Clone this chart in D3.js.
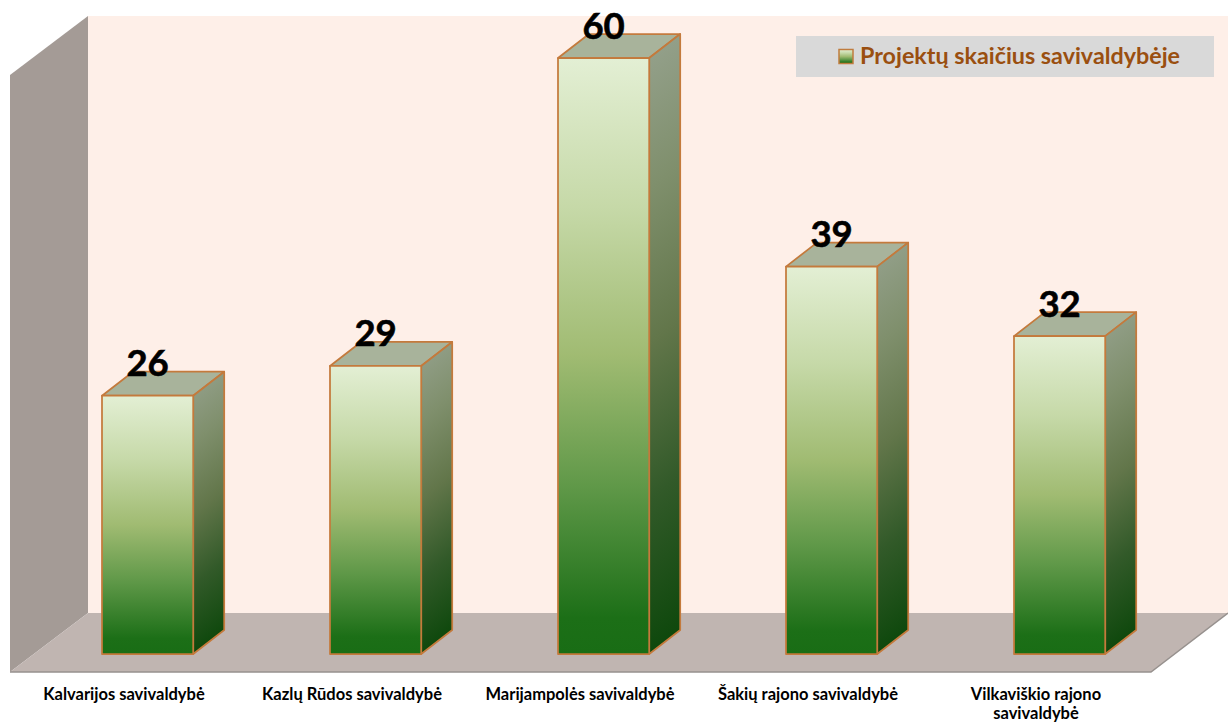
<!DOCTYPE html>
<html>
<head>
<meta charset="utf-8">
<script src="https://cdn.jsdelivr.net/npm/d3@7"></script>
<style>
    html, body { margin: 0; padding: 0; background: #fff; }
    svg { display: block; }
    text { font-family: Lato, "Open Sans", sans-serif; font-weight: 700; }
</style>
</head>
<body>
<div class="chart"></div>
<script>
const width = 1228, height = 724

const categories = ['Kalvarijos savivaldybė', 'Kazlų Rūdos savivaldybė', 'Marijampolės savivaldybė', 'Šakių rajono savivaldybė', 'Vilkaviškio rajono savivaldybė']
const projects = [26, 29, 60, 39, 32]
const seriesName = 'Projektų skaičius savivaldybėje'

// front edge of the floor, the chart depth comes on top of it
const floorY = 672, wallDx = 78, wallDy = 59, wallTop = 16
// bars stand a bit inside the floor and have their own depth
const insetDx = 23.6, insetDy = 18, barDx = 31, barDy = 24

const svg = d3.select('.chart').append('svg')
    .attr('width', width)
    .attr('height', height)

const x = d3.scaleBand()
    .domain(categories)
    .range([10, 1150])
    .paddingInner(0.6)
    .paddingOuter(0.3)

const y = d3.scaleLinear()
    .domain([0, 60])
    .range([floorY - insetDy, 58])

const defs = svg.append('defs')

function gradient(id, stops, x2, y2) {
    const g = defs.append('linearGradient').attr('id', id)
        .attr('x1', 0).attr('y1', 0).attr('x2', x2).attr('y2', y2)
    stops.forEach(s => {
        g.append('stop').attr('offset', s[0]).attr('stop-color', s[1])
    })
}
gradient('front', [[0, '#e3efd4'], [0.25, '#c6d9a8'], [0.5, '#a0bb72'], [0.72, '#5f9848'], [0.94, '#1c6f17'], [1, '#196d15']], 0, 1)

// side face shading runs along the depth slope, so every bar gets its own vector
const sideStops = [[0, '#96a28e'], [0.25, '#7f8f6c'], [0.5, '#62764a'], [0.75, '#325a29'], [1, '#0e480c']]
categories.forEach((d, i) => {
    gradient('side' + i, sideStops, barDy / (y(0) - y(projects[i]) + barDy), 1)
})

// walls and floor
const poly = pts => pts.map(p => p.join(',')).join(' ')

svg.append('polygon').attr('class', 'back-wall')
    .attr('points', poly([[10 + wallDx, wallTop], [width, wallTop], [width, floorY - wallDy], [10 + wallDx, floorY - wallDy]]))
    .style('fill', '#feefe8')
svg.append('polygon').attr('class', 'left-wall')
    .attr('points', poly([[10, wallTop + wallDy], [10 + wallDx, wallTop], [10 + wallDx, floorY - wallDy], [10, floorY]]))
    .style('fill', '#a49b96')
svg.append('polygon').attr('class', 'floor')
    .attr('points', poly([[10, floorY], [10 + wallDx, floorY - wallDy], [width, floorY - wallDy], [1151, floorY]]))
    .style('fill', '#c0b5b1')
svg.append('polyline').attr('class', 'floor-edge')
    .attr('points', poly([[10, floorY], [1151, floorY], [width, floorY - wallDy]]))
    .style('fill', 'none')
    .style('stroke', '#97918e')
    .style('stroke-width', 1.5)

// bars
const bars = svg.append('g').attr('class', 'bars')
    .selectAll('g')
    .data(categories)
    .enter().append('g')
    .attr('transform', d => 'translate(' + (x(d) + insetDx) + ',0)')

const w = x.bandwidth()
const value = (d, i) => projects[i]
const edge = { stroke: '#c47a3c', 'stroke-width': 1.75, 'stroke-linejoin': 'round' }

function addFace(cls, fill, points) {
    const face = bars.append('polygon').attr('class', cls)
        .attr('points', points)
        .style('fill', fill)
    Object.keys(edge).forEach(k => face.style(k, edge[k]))
}

addFace('top', '#a8b39b', (d, i) => {
    const t = y(value(d, i))
    return poly([[0, t], [barDx, t - barDy], [w + barDx, t - barDy], [w, t]])
})
addFace('side', (d, i) => 'url(#side' + i + ')', (d, i) => {
    const t = y(value(d, i))
    return poly([[w, t], [w + barDx, t - barDy], [w + barDx, y(0) - barDy], [w, y(0)]])
})
addFace('front', 'url(#front)', (d, i) => {
    const t = y(value(d, i))
    return poly([[0, t], [w, t], [w, y(0)], [0, y(0)]])
})

bars.append('text').attr('class', 'value')
    .text(value)
    .attr('x', w / 2)
    .attr('y', (d, i) => y(value(d, i)) - 19.5)
    .style('text-anchor', 'middle')
    .style('font-size', '36.5px')
    .style('fill', '#000')
    .style('stroke', '#000')
    .style('stroke-width', 0.6)

// category axis sits on the floor's front edge
const axis = svg.append('g').attr('class', 'axis')
    .attr('transform', 'translate(0,' + floorY + ')')
    .call(d3.axisBottom(x).tickSize(0).tickPadding(0))
axis.select('.domain').remove()
axis.selectAll('text')
    .attr('y', 27.5)
    .attr('dy', 0)
    .style('font-size', '16.5px')
    .style('fill', '#000')
    .each(function () { wrap(d3.select(this), 205) })

function wrap(label, maxWidth) {
    const words = label.text().split(' ')
    if (label.node().getComputedTextLength() <= maxWidth) { return }
    const last = words.pop()
    label.text(null)
    label.append('tspan').attr('x', 0).text(words.join(' '))
    label.append('tspan').attr('x', 0).attr('dy', 19.5).text(last)
}

// legend
const legend = svg.append('g').attr('class', 'legend')
legend.append('rect')
    .attr('x', 796).attr('y', 36)
    .attr('width', 418).attr('height', 41)
    .style('fill', '#d9d9d9')
legend.append('rect')
    .attr('x', 839).attr('y', 49.5)
    .attr('width', 14).attr('height', 14)
    .style('fill', 'url(#front)')
    .style('stroke', '#c07c3e')
    .style('stroke-width', 1.5)
legend.append('text')
    .text(seriesName)
    .attr('x', 860)
    .attr('y', 64)
    .style('font-size', '23.3px')
    .style('fill', '#9a4f10')
</script>
</body>
</html>
